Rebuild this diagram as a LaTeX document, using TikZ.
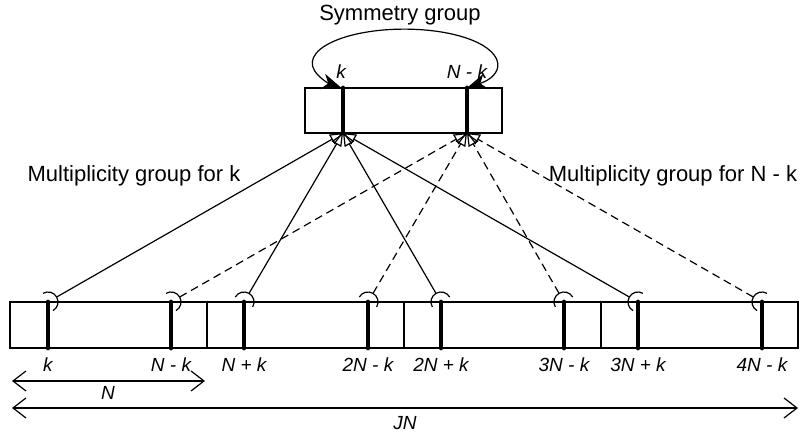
\documentclass[tikz,border=0pt]{standalone}
\usepackage{fontspec}
\setmainfont{Liberation Sans}
\usetikzlibrary{arrows.meta,calc}
% socket on top of a position mark, line from it up to the group mark
\newcommand{\plug}[3]{%
  \draw[grp,#1] let \p1=($(#3)-(#2)$), \n1={atan2(\y1,\x1)} in
     ($(#2)+(\n1:5pt)$) -- (#3);
  \draw let \p1=($(#3)-(#2)$), \n1={atan2(\y1,\x1)} in
     ($(#2)+(\n1+90:5pt)$) arc[start angle=\n1+90, delta angle=-180, radius=5pt];
}

\begin{document}
\begin{tikzpicture}[x=0.5pt,y=0.5pt,line width=0.6pt,
    every node/.style={font=\fontsize{11}{13}\selectfont}]
\tikzset{stub/.style={line width=2.4pt, line cap=round},
  lab/.style={font=\fontsize{9.5}{11}\selectfont\itshape, anchor=base},
  span/.style={{Straight Barb[length=6.5pt,width=10pt]}-{Straight Barb[length=6.5pt,width=10pt]}},
  grp/.style={-{Triangle[open,length=6.5pt,width=5.5pt]}}}
\useasboundingbox (0,0) rectangle (800,437);
% symmetry group: the two marked positions and the swap between them
\draw (305,304) rectangle (502,349);
\draw[stub] (343,304) coordinate (sk) -- (343,349) coordinate (skt);
\draw[stub] (467,304) coordinate (snk) -- (467,349) coordinate (snkt);
\node[lab] at (341,358) {k};
\node[lab] at (467,358) {N - k};
\node[anchor=base] (sg) at (400,416) {Symmetry group};
\draw[{Stealth[length=10pt,width=8pt,inset=3pt]}-{Stealth[length=10pt,width=8pt,inset=3pt]}]
  (snkt) arc[start angle=-47, end angle=227, x radius=46pt, y radius=17pt];
% the whole chain of J blocks of length N
\draw (10,89) rectangle (798,135);
\foreach \x in {207,404,601}
  \draw (\x,89) -- (\x,135);
\foreach \x/\txt/\name in {48/k/p1, 171/N - k/m1, 244/N + k/p2, 368/2N - k/m2,
    441/2N + k/p3, 564/3N - k/m3, 638/3N + k/p4, 762/4N - k/m4} {
  \draw[stub] (\x,89) -- (\x,135) coordinate (\name);
  \node[lab] at (\x,65) {\txt};
}
% multiplicity groups
\foreach \i in {1,...,4} {
  \plug{}{p\i}{sk}
  \plug{dash pattern=on 4pt off 2.5pt}{m\i}{snk}
}
\node[anchor=base] (mk) at (134,255) {Multiplicity group for k};
\node[anchor=base] (mnk) at (673,255) {Multiplicity group for N - k};
% lengths
\draw[span] (12,56) coordinate (a0) -- (205,56) coordinate (a1);
\node[lab] (n) at (108,37) {N};
\draw[span] (12,29) coordinate (b0) -- (798,29) coordinate (b1);
\node[lab] (jn) at (405,7) {JN};
\end{tikzpicture}
\end{document}
